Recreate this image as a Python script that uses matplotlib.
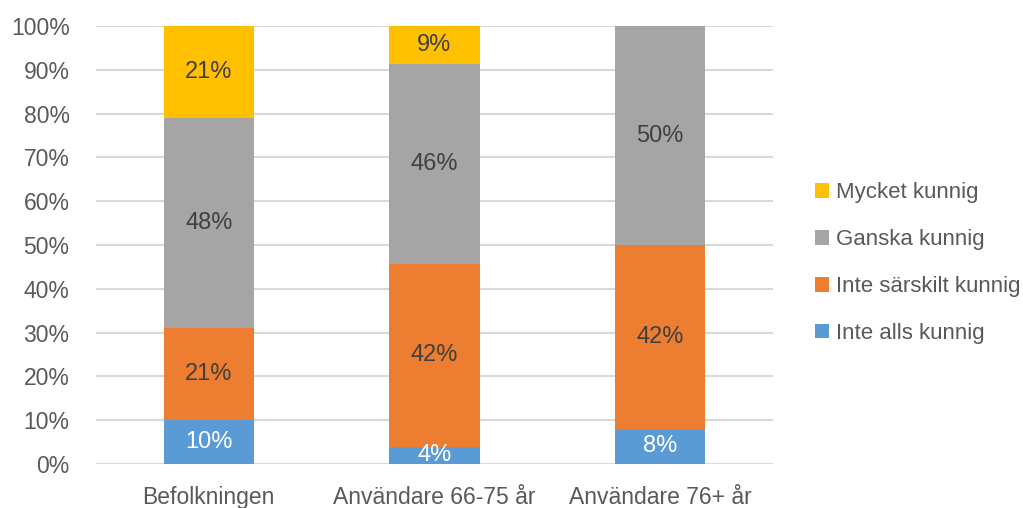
import numpy as np
import matplotlib
matplotlib.use('Agg')
from matplotlib import pyplot as plt

groups = ['Befolkningen', 'Användare 66-75 år', 'Användare 76+ år']
series = ['Inte alls kunnig', 'Inte särskilt kunnig', 'Ganska kunnig', 'Mycket kunnig']
inte_alls = [10, 3.9, 8]
inte_sarskilt = [21, 41.8, 42]
ganska = [48, 45.7, 50]
mycket = [21, 8.6, 0]

colors = ['#5B9BD5', '#ED7D31', '#A5A5A5', '#FFC000']
label_colors = ['white', '#404040', '#404040', '#404040']

plt.rcParams['font.family'] = ['Liberation Sans', 'DejaVu Sans']

fig = plt.figure(figsize=(10.23, 5.08), dpi=100)
ax = fig.add_axes([0.0938, 0.0866, 0.6618, 0.8622])

x = np.arange(len(groups))
bottom = np.zeros(len(groups))
handles = []
for vals, name, col, lcol in zip([inte_alls, inte_sarskilt, ganska, mycket], series, colors, label_colors):
    vals = np.array(vals, dtype=float)
    bars = ax.bar(x, vals, 0.4, bottom=bottom, color=col, label=name, zorder=3)
    handles.append(bars)
    for xi, b, v in zip(x, bottom, vals):
        if v > 0:
            ax.text(xi, b + v / 2, '%.0f%%' % v, ha='center', va='center',
                    fontsize=17, color=lcol, zorder=4)
    bottom += vals

ax.set_xlim(-0.5, 2.5)
ax.set_ylim(0, 100)
ax.set_yticks(np.arange(0, 101, 10))
ax.set_yticklabels(['%d%%' % v for v in range(0, 101, 10)])
ax.set_xticks(x)
ax.set_xticklabels(groups)
ax.tick_params(length=0, labelsize=16.5, labelcolor='#595959')
ax.tick_params(axis='y', pad=19)
ax.tick_params(axis='x', pad=16)
ax.yaxis.grid(True, color='#D9D9D9', linewidth=1.5, zorder=0)
for s in ax.spines.values():
    s.set_visible(False)

leg = fig.legend(handles[::-1], series[::-1], loc='center left', bbox_to_anchor=(0.777, 0.482),
                 frameon=False, fontsize=16, handlelength=0.65, handleheight=0.65,
                 handletextpad=0.3, labelspacing=1.16, labelcolor='#595959')

fig.savefig('out.png', dpi=100)
